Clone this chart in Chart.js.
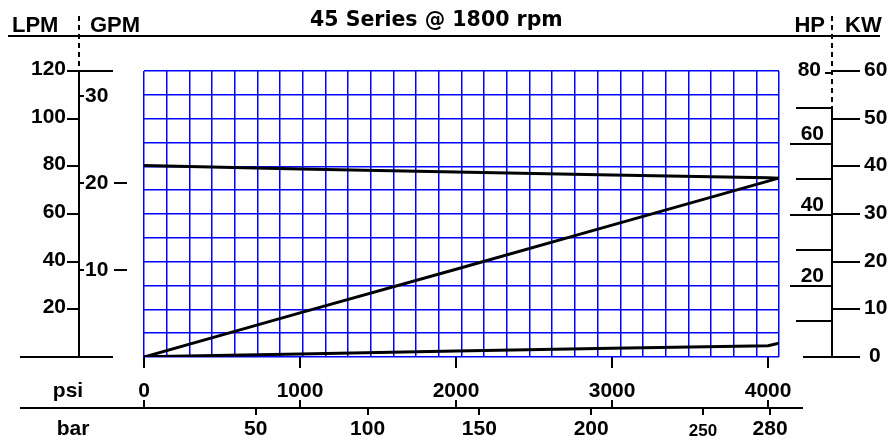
<!DOCTYPE html>
<html>
<head>
<meta charset="utf-8">
<title>45 Series @ 1800 rpm</title>
<script src="https://cdn.jsdelivr.net/npm/chart.js@4.4.1/dist/chart.umd.min.js"></script>
<style>
  html, body { margin: 0; padding: 0; background: #fff; }
  canvas { display: block; }
</style>
</head>
<body>
<canvas id="pumpChart" width="893" height="444"></canvas>
<script>
// pressure points along the bottom (psi)
const psiPoints = [0, 1000, 2000, 3000, 4000, 4070];
// top curve: output flow, LPM
const flowLpm = [80.4, 78.9, 77.6, 76.4, 75.2, 75.0];
// diagonal: input power, HP
const powerHp = [0, 12.4, 24.7, 37.1, 49.5, 50.4];
// bottom curve, read on the LPM scale
const drainLpm = [0.1, 1.3, 2.5, 3.7, 4.7, 5.8];

// axis ticks
const psiTicks = [0, 1000, 2000, 3000, 4000];
const barTicks = [50, 100, 150, 200, 250, 280];
const lpmTicks = [20, 40, 60, 80, 100, 120];
const gpmTicks = [10, 20, 30];
const hpTicks = [10, 20, 30, 40, 50, 60, 70, 80];
const hpLabels = [20, 40, 60, 80];
const kwTicks = [0, 10, 20, 30, 40, 50, 60];

const FONT = '"Liberation Sans", Arial, Helvetica, sans-serif';
function bold(size) {
    return 'bold ' + size + 'px ' + FONT;
}

function toXY(xs, ys) {
    return xs.map((v, i) => ({ x: v, y: ys[i] }));
}

// draws the side scales, header and the bar baseline
const sideAxes = {
    id: 'sideAxes',
    afterDraw(chart) {
        const ctx = chart.ctx;
        const { lpm, gpm, hp, kw, x, bar } = chart.scales;
        const area = chart.chartArea;

        function seg(x1, y1, x2, y2, w) {
            ctx.lineWidth = w || 2;
            ctx.beginPath();
            ctx.moveTo(x1, y1);
            ctx.lineTo(x2, y2);
            ctx.stroke();
        }
        function txt(s, tx, ty, align, size, base) {
            ctx.font = bold(size || 21);
            ctx.textAlign = align;
            ctx.textBaseline = base || 'middle';
            ctx.fillText(s, tx, ty);
        }

        ctx.save();
        ctx.strokeStyle = '#000';
        ctx.fillStyle = '#000';

        // title
        ctx.font = 'bold 20.5px "DejaVu Sans", sans-serif';
        ctx.textAlign = 'left';
        ctx.textBaseline = 'alphabetic';
        ctx.fillText('45 Series @ 1800 rpm', 310, 26);

        // header
        txt('LPM', 12, 32, 'left', 22, 'alphabetic');
        txt('GPM', 90, 32, 'left', 22, 'alphabetic');
        txt('HP', 825, 32, 'right', 22, 'alphabetic');
        txt('KW', 845, 32, 'left', 22, 'alphabetic');
        seg(8, 36, 880, 36);

        // dashed separators
        ctx.setLineDash([5, 4]);
        seg(79, 16, 79, area.top);
        seg(832, 16, 832, Math.round(hp.getPixelForValue(70)));
        ctx.setLineDash([]);

        // LPM / GPM
        const y0 = Math.round(lpm.getPixelForValue(0));
        const yTop = Math.round(lpm.getPixelForValue(120));
        seg(79, yTop, 79, y0);
        seg(20, y0, 113, y0);
        seg(79, yTop, 113, yTop);
        lpmTicks.forEach(v => {
            const y = Math.round(lpm.getPixelForValue(v));
            seg(67, y, 79, y);
            txt(String(v), 66, y - 2, 'right');
        });
        gpmTicks.forEach(v => {
            const y = Math.round(gpm.getPixelForValue(v));
            seg(79, y, 84, y);
            txt(String(v), 85, y, 'left');
            if (v < 30) seg(114, y, 127, y);
        });

        // HP / KW
        const hpBase = Math.round(hp.getPixelForValue(0));
        seg(832, Math.round(hp.getPixelForValue(70)), 832, hpBase);
        seg(803, hpBase, 860, hpBase);
        hpTicks.forEach(v => {
            const y = Math.round(hp.getPixelForValue(v));
            if (v === 80) {
                seg(825, y, 832, y);
                txt('80', 821, y - 3, 'right');
                return;
            }
            const labelled = hpLabels.includes(v);
            seg(labelled ? 790 : 796, y, 832, y);
            if (labelled) txt(String(v), 824, y - 4, 'right', 21, 'alphabetic');
        });
        kwTicks.forEach(v => {
            const y = Math.round(kw.getPixelForValue(v));
            if (v > 0) seg(832, y, 860, y);
            txt(String(v), v === 0 ? 869 : 864, y - 1, 'left');
        });

        // bar baseline with the psi marks above it
        const barY = Math.round(bar.top);
        seg(20, barY, 803, barY);
        psiTicks.forEach(v => {
            const px = Math.round(x.getPixelForValue(v));
            seg(px, barY - 8, px, barY);
        });
        txt('psi', 68, 391, 'center');
        txt('bar', 73, 429, 'center');

        ctx.restore();
    }
};

const blueGrid = { color: '#0000ff', lineWidth: 1.5, drawTicks: false };

new Chart(document.getElementById('pumpChart'), {
    type: 'line',
    data: {
        datasets: [
            { label: 'Flow', data: toXY(psiPoints, flowLpm), yAxisID: 'lpm', borderColor: '#000' },
            { label: 'Power', data: toXY(psiPoints, powerHp), yAxisID: 'hp', borderColor: '#000' },
            { label: 'Drain', data: toXY(psiPoints, drainLpm), yAxisID: 'lpm', borderColor: '#000' }
        ]
    },
    options: {
        responsive: false,
        animation: false,
        layout: { padding: { left: 144, right: 114, top: 71, bottom: 0 } },
        elements: {
            point: { radius: 0 },
            line: { borderWidth: 3, tension: 0, fill: false }
        },
        plugins: {
            legend: { display: false },
            title: { display: false },
            tooltip: { enabled: false }
        },
        scales: {
            x: {
                type: 'linear', position: 'bottom', min: 0, max: 4070, weight: 0,
                afterBuildTicks: s => { s.ticks = psiTicks.map(v => ({ value: v })); },
                afterFit: s => { s.height = 51; },
                border: { display: false },
                grid: { drawOnChartArea: false, drawTicks: true, tickLength: 11, color: '#000', lineWidth: 2 },
                ticks: {
                    autoSkip: false, maxRotation: 0, minRotation: 0, padding: 11, color: '#000',
                    font: { family: FONT, weight: 'bold', size: 21 },
                    callback: v => String(v)
                }
            },
            bar: {
                type: 'linear', position: 'bottom', min: 0, max: 284, weight: 1,
                afterBuildTicks: s => { s.ticks = barTicks.map(v => ({ value: v })); },
                afterFit: s => { s.height = 36; },
                border: { display: false },
                grid: { drawOnChartArea: false, drawTicks: true, tickLength: 7, color: '#000', lineWidth: 2 },
                ticks: {
                    autoSkip: false, maxRotation: 0, minRotation: 0, padding: 2, color: '#000',
                    font: c => (c.tick && c.tick.value === 250)
                        ? { family: FONT, weight: 'bold', size: 17, lineHeight: 1.7 }
                        : { family: FONT, weight: 'bold', size: 21 },
                    callback: v => String(v)
                }
            },
            gx: {
                type: 'linear', position: 'bottom', min: 0, max: 28, weight: 2,
                afterFit: s => { s.height = 0; },
                border: { display: false },
                grid: blueGrid,
                ticks: { display: false, stepSize: 1 }
            },
            gy: {
                type: 'linear', position: 'left', min: 0, max: 12,
                afterFit: s => { s.width = 0; },
                border: { display: false },
                grid: blueGrid,
                ticks: { display: false, stepSize: 1 }
            },
            lpm: { type: 'linear', display: false, position: 'left', min: 0, max: 120 },
            gpm: { type: 'linear', display: false, position: 'left', min: 0, max: 32.9 },
            hp: { type: 'linear', display: false, position: 'right', min: 0, max: 80.47 },
            kw: { type: 'linear', display: false, position: 'right', min: 0, max: 60 }
        }
    },
    plugins: [sideAxes]
});
</script>
</body>
</html>
